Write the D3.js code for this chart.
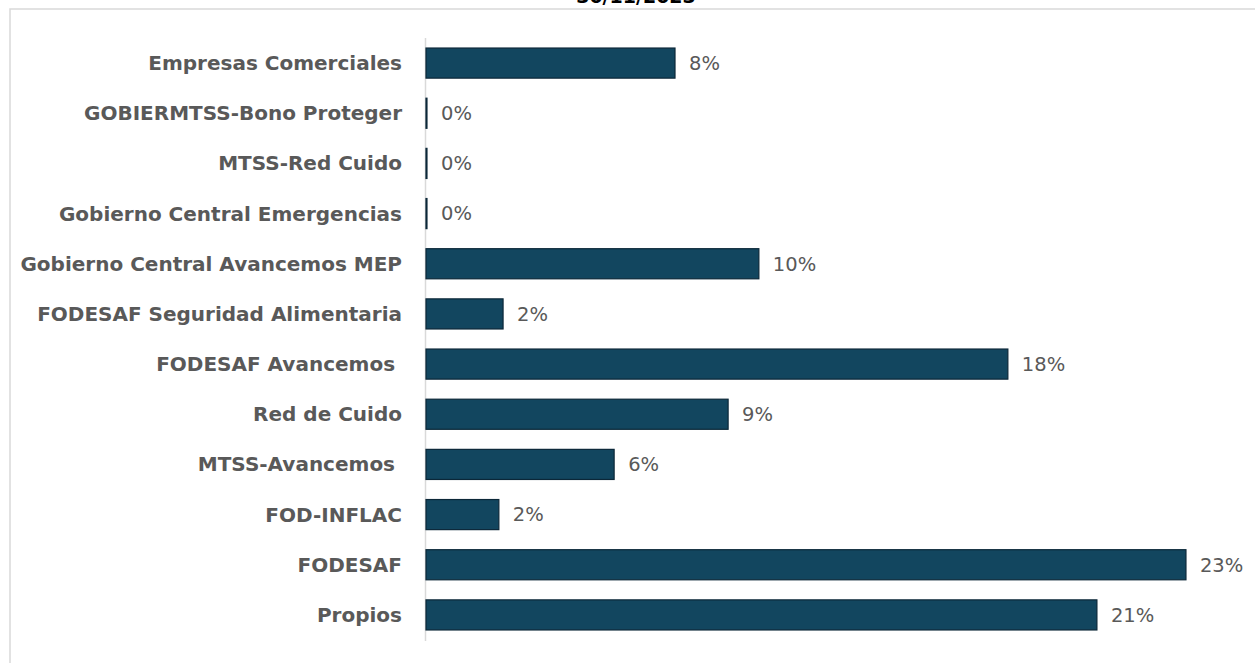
<!DOCTYPE html>
<html>
<head>
<meta charset="utf-8">
<script src="https://cdn.jsdelivr.net/npm/d3@7"></script>
<style>
  body { margin: 0; background: #fff; }
  text { font-family: "DejaVu Sans", sans-serif; }
</style>
</head>
<body>
<div id="chart"></div>
<script>
// Data (shares of total)
const title = "30/11/2023";
const categories = [
    "Empresas Comerciales",
    "GOBIERMTSS-Bono Proteger",
    "MTSS-Red Cuido",
    "Gobierno Central Emergencias",
    "Gobierno Central Avancemos MEP",
    "FODESAF Seguridad Alimentaria",
    "FODESAF Avancemos ",
    "Red de Cuido",
    "MTSS-Avancemos ",
    "FOD-INFLAC",
    "FODESAF",
    "Propios"
];
const shares = [0.0769, 0.0003, 0.0003, 0.0003, 0.1028, 0.0238, 0.1797, 0.0933, 0.0581, 0.0225, 0.2347, 0.2072];

const width = 1255;
const height = 663;

const data = categories.map((c, i) => ({ name: c, value: shares[i] }));

const svg = d3.select("#chart").append("svg")
    .attr("width", width)
    .attr("height", height);

// Chart frame (only top/left edges fall inside the picture)
svg.append("rect")
    .attr("x", 10)
    .attr("y", 9)
    .attr("width", 1400)
    .attr("height", 800)
    .attr("fill", "none")
    .attr("stroke", "#d9d9d9")
    .attr("stroke-width", 1.5);

// Title, mostly cut off by the top of the picture (as in the source)
svg.append("text")
    .attr("x", 636)
    .attr("y", 3)
    .attr("text-anchor", "middle")
    .attr("font-size", 19)
    .attr("font-weight", "bold")
    .attr("fill", "#000")
    .text(title);

const x = d3.scaleLinear()
    .domain([0, 0.25])
    .range([426, 1235.5]);

const y = d3.scaleBand()
    .domain(categories)
    .range([38, 640])
    .paddingInner(0.4)
    .paddingOuter(0.2);

// Vertical axis line
svg.append("line")
    .attr("x1", 425.5)
    .attr("x2", 425.5)
    .attr("y1", 38)
    .attr("y2", 641)
    .attr("stroke", "#d9d9d9")
    .attr("stroke-width", 1.5);

// Bars
svg.append("g")
    .selectAll("rect")
    .data(data)
    .join("rect")
    .attr("x", x(0))
    .attr("y", d => y(d.name))
    .attr("width", d => x(d.value) - x(0))
    .attr("height", y.bandwidth())
    .attr("fill", "#12465f")
    .attr("stroke", "#0b2738")
    .attr("stroke-width", 1.2);

// Category labels
svg.append("g")
    .selectAll("text")
    .data(data)
    .join("text")
    .attr("x", 402)
    .attr("y", d => y(d.name) + y.bandwidth() / 2)
    .attr("dy", "0.35em")
    .attr("text-anchor", "end")
    .attr("font-size", 20)
    .attr("font-weight", "bold")
    .attr("fill", "#595959")
    .style("white-space", "pre")
    .text(d => d.name);

// Value labels
const fmt = d3.format(".0%");
svg.append("g")
    .selectAll("text")
    .data(data)
    .join("text")
    .attr("x", d => x(d.value) + 14)
    .attr("y", d => y(d.name) + y.bandwidth() / 2)
    .attr("dy", "0.35em")
    .attr("font-size", 19.5)
    .attr("fill", "#595959")
    .text(d => fmt(d.value));
</script>
</body>
</html>
